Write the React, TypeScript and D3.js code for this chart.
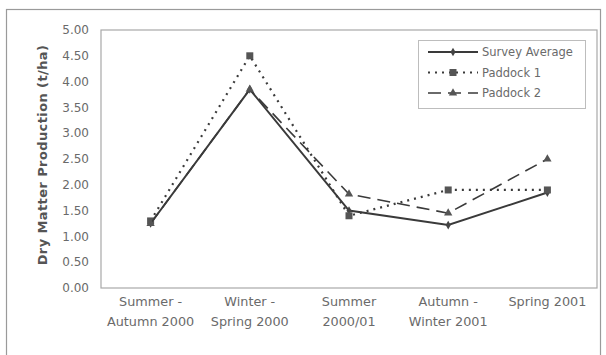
import React from "react";
import * as d3 from "d3";

const categories: string[][] = [
  ["Summer -", "Autumn 2000"],
  ["Winter -", "Spring 2000"],
  ["Summer", "2000/01"],
  ["Autumn -", "Winter 2001"],
  ["Spring 2001"],
];
const surveyAverage = [1.25, 3.85, 1.5, 1.22, 1.85];
const paddock1 = [1.3, 4.5, 1.4, 1.9, 1.9];
const paddock2 = [1.25, 3.85, 1.82, 1.45, 2.5];
const yTicks = [0, 0.5, 1, 1.5, 2, 2.5, 3, 3.5, 4, 4.5, 5];

const W = 606;
const H = 355;
const plot = { left: 101, right: 597, top: 30, bottom: 288 };

const series = [
  { name: "Survey Average", values: surveyAverage, dash: "none", marker: "diamond", width: 2 },
  { name: "Paddock 1", values: paddock1, dash: "2,5", marker: "square", width: 2.2 },
  { name: "Paddock 2", values: paddock2, dash: "13,7", marker: "triangle", width: 1.6 },
];

const lineColor = "#3a3a3a";
const textColor = "#6a6a6a";

function Marker({ kind, x, y }: { kind: string; x: number; y: number }) {
  if (kind === "square") {
    return <rect x={x - 3.5} y={y - 3.5} width={7} height={7} fill="#555" />;
  }
  if (kind === "triangle") {
    const p = d3.symbol(d3.symbolTriangle, 30)();
    return <path d={p || ""} transform={`translate(${x},${y})`} fill="#555" />;
  }
  const p = d3.symbol(d3.symbolDiamond, 22)();
  return <path d={p || ""} transform={`translate(${x},${y})`} fill="#444" />;
}

export default function App() {
  const x = d3
    .scalePoint<number>()
    .domain(categories.map((_, i) => i))
    .range([plot.left, plot.right])
    .padding(0.5);
  const y = d3.scaleLinear().domain([0, 5]).range([plot.bottom, plot.top]);
  const line = d3
    .line<number>()
    .x((_, i) => x(i) as number)
    .y((v) => y(v));

  const font = "'DejaVu Sans', Verdana, sans-serif";

  return (
    <svg
      width={W}
      height={H}
      style={{ position: "absolute", left: 0, top: 0, background: "#fff" }}
      fontFamily={font}
    >
      <rect x={0} y={0} width={W} height={H} fill="#fff" />
      {/* outer chart frame */}
      <rect x={6.5} y={9.5} width={594} height={350} fill="none" stroke="#9a9a9a" strokeWidth={1.2} />
      {/* plot area frame */}
      <rect
        x={plot.left}
        y={plot.top}
        width={plot.right - plot.left}
        height={plot.bottom - plot.top}
        fill="none"
        stroke="#a8a8a8"
        strokeWidth={1.2}
      />
      {/* y tick labels */}
      {yTicks.map((t) => (
        <text
          key={t}
          x={89}
          y={y(t)}
          dy="0.35em"
          textAnchor="end"
          fontSize={12}
          fill={textColor}
        >
          {t.toFixed(2)}
        </text>
      ))}
      {/* y axis title */}
      <text
        transform={`translate(47,155) rotate(-90)`}
        textAnchor="middle"
        fontSize={13}
        fontWeight="bold"
        letterSpacing={0.4}
        fill="#555"
      >
        Dry Matter Production (t/ha)
      </text>
      {/* category labels */}
      {categories.map((lines, i) => (
        <text key={i} x={x(i)} y={306} textAnchor="middle" fontSize={12.8} fill={textColor}>
          {lines.map((l, j) => (
            <tspan key={j} x={x(i)} dy={j === 0 ? 0 : 20}>
              {l}
            </tspan>
          ))}
        </text>
      ))}
      {/* series lines and markers */}
      {series.map((s) => (
        <g key={s.name}>
          <path
            d={line(s.values) || ""}
            fill="none"
            stroke={lineColor}
            strokeWidth={s.width}
            strokeDasharray={s.dash}
          />
          {s.values.map((v, i) => (
            <Marker key={i} kind={s.marker} x={x(i) as number} y={y(v)} />
          ))}
        </g>
      ))}
      {/* legend */}
      <g>
        <rect x={418.5} y={40.5} width={167} height={68} fill="#fff" stroke="#bdbdbd" strokeWidth={1} />
        {series.map((s, i) => {
          const ly = 52 + i * 20.5;
          return (
            <g key={s.name}>
              <line
                x1={428}
                x2={478}
                y1={ly}
                y2={ly}
                stroke={lineColor}
                strokeWidth={s.width}
                strokeDasharray={s.dash}
              />
              <Marker kind={s.marker} x={453} y={ly} />
              <text x={482} y={ly} dy="0.35em" fontSize={11.5} fill={textColor}>
                {s.name}
              </text>
            </g>
          );
        })}
      </g>
    </svg>
  );
}
